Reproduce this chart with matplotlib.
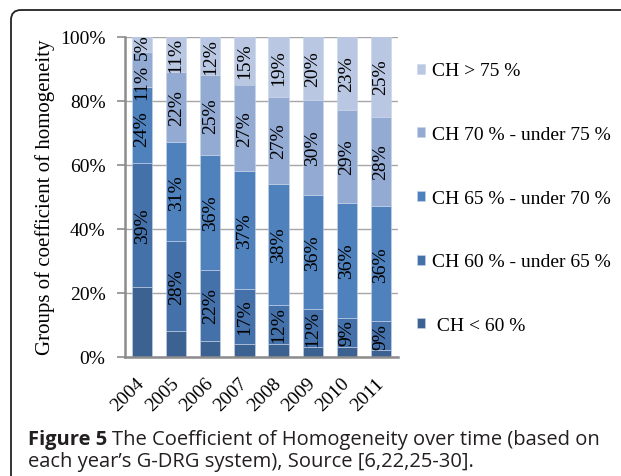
import matplotlib
matplotlib.use("Agg")

import matplotlib.pyplot as plt
import matplotlib.transforms as mtransforms
import numpy as np
from matplotlib.patches import FancyBboxPatch

years = ["2004", "2005", "2006", "2007", "2008", "2009", "2010", "2011"]
categories = ["CH < 60 %", "CH 60 % - under 65 %", "CH 65 % - under 70 %",
              "CH 70 % - under 75 %", "CH > 75 %"]
legend_labels = [" CH < 60 %", "CH 60 % - under 65 %", "CH 65 % - under 70 %",
                 "CH 70 % - under 75 %", "CH > 75 %"]

ch_lt60 = [22, 8, 5, 4, 4, 3, 3, 2]
ch_60_65 = [39, 28, 22, 17, 12, 12, 9, 9]
ch_65_70 = [24, 31, 36, 37, 38, 36, 36, 36]
ch_70_75 = [11, 22, 25, 27, 27, 30, 29, 28]
ch_gt75 = [5, 11, 12, 15, 19, 20, 23, 25]

# labels shown on the bars (the bottom group has none)
show_label = [False, True, True, True, True]
colors = ["#3c6292", "#4571aa", "#4f81bd", "#93aad3", "#b9c7e2"]
# small nudges so the crowded 2004 labels do not collide (series, bar) -> shift in %
label_nudge = {(2, 0): -0.8, (3, 0): -3.6, (4, 0): -0.6}

plt.rcParams["font.family"] = "Liberation Serif"

fig = plt.figure(figsize=(6.21, 4.77), dpi=100)
ax = fig.add_axes([125 / 621, 119.5 / 477, 273 / 621, 320 / 477])

series = np.array([ch_lt60, ch_60_65, ch_65_70, ch_70_75, ch_gt75], dtype=float)
shares = series / series.sum(axis=0) * 100  # 100% stacked, like Excel
x = np.arange(len(years))
bottom = np.zeros(len(years))
for i, name in enumerate(categories):
    ax.bar(x, shares[i], 0.59, bottom=bottom, color=colors[i], label=legend_labels[i],
           edgecolor="#c9d4e8", linewidth=0.4, zorder=2)
    if show_label[i]:
        for j in range(len(years)):
            yc = bottom[j] + shares[i][j] / 2 + label_nudge.get((i, j), 0)
            ax.text(x[j], yc, f"{int(series[i][j])}%", rotation=90,
                    ha="center", va="center", fontsize=14, color="black", zorder=3)
    bottom += shares[i]

ax.set_xlim(-0.5, 7.5)
ax.set_ylim(0, 100)
ax.set_yticks([0, 20, 40, 60, 80, 100])
ax.set_yticklabels(["0%", "20%", "40%", "60%", "80%", "100%"], fontsize=14)
ax.set_xticks(x)
ax.set_xticklabels(years, fontsize=14, rotation=45, ha="right", va="center",
                   rotation_mode="anchor")
shift = mtransforms.ScaledTranslation(-4 / 100, 0, fig.dpi_scale_trans)
for lab in ax.get_xticklabels():
    lab.set_transform(lab.get_transform() + shift)
ax.tick_params(axis="x", length=0, pad=17)
ax.tick_params(axis="y", length=6, width=1.2, color="#8c8c8c", pad=8)
ax.yaxis.grid(True, color="#a6a6a6", linewidth=1, zorder=0)
ax.set_axisbelow(True)
for side in ["top", "right"]:
    ax.spines[side].set_visible(False)
for side in ["left", "bottom"]:
    ax.spines[side].set_color("#8c8c8c")
    ax.spines[side].set_linewidth(1.8)

ax.set_ylabel("Groups of coefficient of homogeneity", fontsize=15)
ax.yaxis.set_label_coords(-0.293, 0.5)
ax.yaxis.label.set_va("center")

handles, labels = ax.get_legend_handles_labels()
ax.legend(handles[::-1], labels[::-1], loc="upper left", frameon=False,
          bbox_to_anchor=(417 / 621, 1 - 63.5 / 477), bbox_transform=fig.transFigure,
          fontsize=14, handlelength=0.42, handleheight=0.42, handletextpad=0.35,
          labelspacing=2.4, borderpad=0, borderaxespad=0)

# rounded frame around the figure
frame = FancyBboxPatch((0.11, -0.5), 7.0, 4.66 + 0.5,
                       boxstyle="round,pad=0,rounding_size=0.1",
                       transform=fig.dpi_scale_trans, facecolor="none",
                       edgecolor="#222222", linewidth=1.3)
fig.patches.append(frame)

# caption
cap_font = "Open Sans"
fig.canvas.draw()
renderer = fig.canvas.get_renderer()
bold = fig.text(28 / 621, 1 - 445 / 477, "Figure 5", fontsize=14.5, family=cap_font,
                fontweight="bold", color="#231f20", va="baseline")
bb = bold.get_window_extent(renderer)
fig.text((bb.x1 + 5) / 621, 1 - 445 / 477,
         "The Coefficient of Homogeneity over time (based on", fontsize=14.5,
         family=cap_font, color="#231f20", va="baseline")
fig.text(28 / 621, 1 - 467 / 477, "each year\u2019s G-DRG system), Source [6,22,25-30].",
         fontsize=14.5, family=cap_font, color="#231f20", va="baseline")

fig.savefig("out.png", dpi=100)
plt.close(fig)
